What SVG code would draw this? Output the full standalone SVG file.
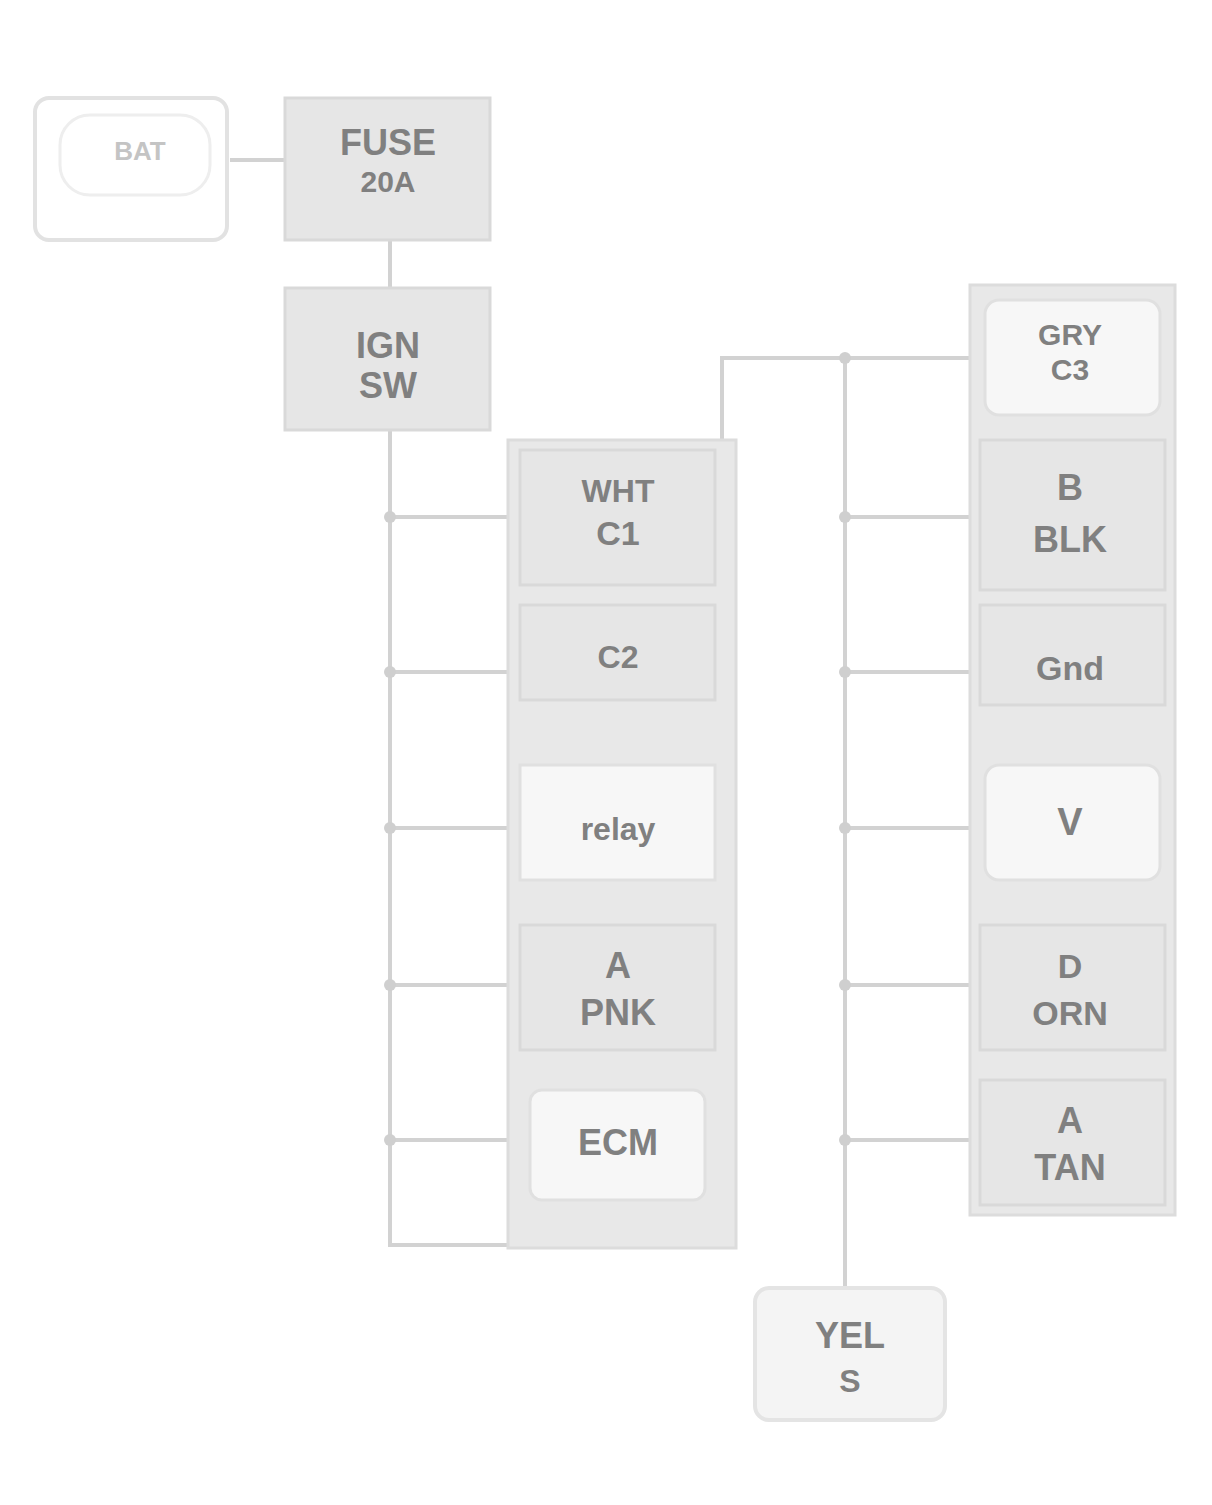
<svg xmlns="http://www.w3.org/2000/svg" width="1212" height="1505" viewBox="0 0 1212 1505">
<style>
.panel{fill:#e8e8e8;stroke:#dcdcdc;stroke-width:3}
.box{fill:#e6e6e6;stroke:#d9d9d9;stroke-width:3}
.inner{fill:#f7f7f7;stroke:#e0e0e0;stroke-width:3}
.wire{fill:none;stroke:#d2d2d2;stroke-width:4}
.dot{fill:#cfcfcf}
.t{font-family:"Liberation Sans",Arial,sans-serif;font-weight:bold;fill:#808080;text-anchor:middle}
.tl{font-family:"Liberation Sans",Arial,sans-serif;font-weight:bold;fill:#c4c4c4;text-anchor:middle}
</style>
<rect width="1212" height="1505" fill="#ffffff"/>
<g id="connectors">
<path class="wire" d="M230 160 H288"/>
<path class="wire" d="M390 238 V290"/>
<path class="wire" d="M390 430 V1245 H735"/>
<path class="wire" d="M390 517 H520"/>
<path class="wire" d="M390 672 H520"/>
<path class="wire" d="M390 828 H520"/>
<path class="wire" d="M390 985 H520"/>
<path class="wire" d="M390 1140 H520"/>
<path class="wire" d="M722 445 V358 H975"/>
<path class="wire" d="M845 358 V1290"/>
<path class="wire" d="M845 517 H975"/>
<path class="wire" d="M845 672 H975"/>
<path class="wire" d="M845 828 H975"/>
<path class="wire" d="M845 985 H975"/>
<path class="wire" d="M845 1140 H975"/>
<circle class="dot" cx="390" cy="517" r="6"/>
<circle class="dot" cx="390" cy="672" r="6"/>
<circle class="dot" cx="390" cy="828" r="6"/>
<circle class="dot" cx="390" cy="985" r="6"/>
<circle class="dot" cx="390" cy="1140" r="6"/>
<circle class="dot" cx="845" cy="358" r="6"/>
<circle class="dot" cx="845" cy="517" r="6"/>
<circle class="dot" cx="845" cy="672" r="6"/>
<circle class="dot" cx="845" cy="828" r="6"/>
<circle class="dot" cx="845" cy="985" r="6"/>
<circle class="dot" cx="845" cy="1140" r="6"/>
</g>
<g id="n1">
<rect x="35" y="98" width="192" height="142" rx="14" fill="#ffffff" stroke="#e2e2e2" stroke-width="4"/>
<rect x="60" y="115" width="150" height="80" rx="30" fill="#ffffff" stroke="#eeeeee" stroke-width="3"/>
<text class="tl" x="140" y="160" font-size="26">BAT</text>
</g>
<g id="n2">
<rect class="box" x="285" y="98" width="205" height="142"/>
<text class="t" x="388" y="155" font-size="36">FUSE</text>
<text class="t" x="388" y="192" font-size="30">20A</text>
</g>
<g id="n3">
<rect class="box" x="285" y="288" width="205" height="142"/>
<text class="t" x="388" y="358" font-size="36">IGN</text>
<text class="t" x="388" y="398" font-size="36">SW</text>
</g>
<g id="leftpanel">
<rect class="panel" x="508" y="440" width="228" height="808"/>
</g>
<g id="L1">
<rect class="box" x="520" y="450" width="195" height="135"/>
<text class="t" x="618" y="502" font-size="32">WHT</text>
<text class="t" x="618" y="545" font-size="34">C1</text>
</g>
<g id="L2">
<rect class="box" x="520" y="605" width="195" height="95"/>
<text class="t" x="618" y="668" font-size="32">C2</text>
</g>
<g id="L3">
<rect class="inner" x="520" y="765" width="195" height="115"/>
<text class="t" x="618" y="840" font-size="32">relay</text>
</g>
<g id="L4">
<rect class="box" x="520" y="925" width="195" height="125"/>
<text class="t" x="618" y="978" font-size="36">A</text>
<text class="t" x="618" y="1025" font-size="36">PNK</text>
</g>
<g id="L5">
<rect class="inner" x="530" y="1090" width="175" height="110" rx="12"/>
<text class="t" x="618" y="1155" font-size="36">ECM</text>
</g>
<g id="rightpanel">
<rect class="panel" x="970" y="285" width="205" height="930"/>
</g>
<g id="R1">
<rect class="inner" x="985" y="300" width="175" height="115" rx="14"/>
<text class="t" x="1070" y="345" font-size="30">GRY</text>
<text class="t" x="1070" y="380" font-size="30">C3</text>
</g>
<g id="R2">
<rect class="box" x="980" y="440" width="185" height="150"/>
<text class="t" x="1070" y="500" font-size="36">B</text>
<text class="t" x="1070" y="552" font-size="36">BLK</text>
</g>
<g id="R3">
<rect class="box" x="980" y="605" width="185" height="100"/>
<text class="t" x="1070" y="680" font-size="34">Gnd</text>
</g>
<g id="R4">
<rect class="inner" x="985" y="765" width="175" height="115" rx="14"/>
<text class="t" x="1070" y="835" font-size="38">V</text>
</g>
<g id="R5">
<rect class="box" x="980" y="925" width="185" height="125"/>
<text class="t" x="1070" y="978" font-size="34">D</text>
<text class="t" x="1070" y="1025" font-size="34">ORN</text>
</g>
<g id="R6">
<rect class="box" x="980" y="1080" width="185" height="125"/>
<text class="t" x="1070" y="1133" font-size="36">A</text>
<text class="t" x="1070" y="1180" font-size="36">TAN</text>
</g>
<g id="n_bottom">
<rect x="755" y="1288" width="190" height="132" rx="14" fill="#f4f4f4" stroke="#e4e4e4" stroke-width="4"/>
<text class="t" x="850" y="1348" font-size="36">YEL</text>
<text class="t" x="850" y="1392" font-size="32">S</text>
</g>
</svg>
